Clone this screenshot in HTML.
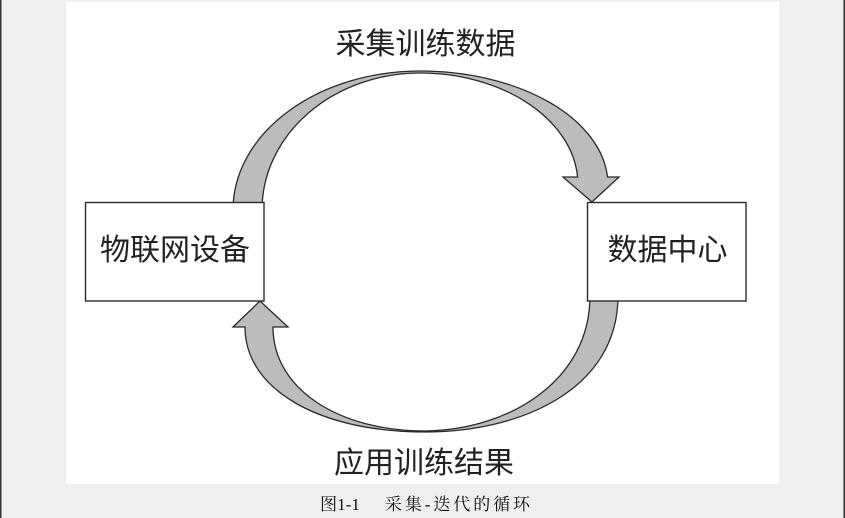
<!DOCTYPE html>
<html>
<head>
<meta charset="utf-8">
<style>
  html, body { margin:0; padding:0; }
  body { width:845px; height:518px; background:#efefef; position:relative; overflow:hidden; }
  svg { position:absolute; left:0; top:0; }
</style>
</head>
<body>
<svg width="845" height="518" viewBox="0 0 845 518" xmlns="http://www.w3.org/2000/svg">
  <rect x="0" y="0" width="845" height="518" fill="#efefef"/>
  <rect x="0" y="0" width="1.5" height="518" fill="#333"/>
  <rect x="843.5" y="0" width="1.5" height="518" fill="#333"/>
  <rect x="66" y="2" width="713" height="482" fill="#ffffff"/>

  <!-- top arrow -->
  <path d="M233,210 A187 139 0 0 1 420,71 A188 114 0 0 1 607.5,177 L619,177 L592,202 L563,177 L577.6,177 A158 112 0 0 0 420,73 A158 137 0 0 0 262,210 Z"
        fill="#bcbcbc" stroke="#2a2a2a" stroke-width="1.3" stroke-linejoin="miter"/>

  <!-- bottom arrow -->
  <path d="M618,296 C618,390 520,432 425,432 C320,432 245,390 245,327 L233,327 L260,301 L288,327 L273,327 C273,390 340,431 425,431 C510,430 590,380 590,296 Z"
        fill="#bcbcbc" stroke="#2a2a2a" stroke-width="1.3" stroke-linejoin="miter"/>

  <!-- boxes -->
  <rect x="85.5" y="202.5" width="178.5" height="98.5" fill="#ffffff" stroke="#2a2a2a" stroke-width="1.4"/>
  <rect x="587.5" y="202.5" width="158.5" height="98.5" fill="#ffffff" stroke="#2a2a2a" stroke-width="1.4"/>

  <g font-family="'Liberation Sans','Noto Sans CJK SC',sans-serif" font-size="30" fill="#222" text-anchor="middle">
    <text x="175" y="260">物联网设备</text>
    <text x="667.5" y="260">数据中心</text>
    <text x="425.5" y="54">采集训练数据</text>
    <text x="424" y="473">应用训练结果</text>
  </g>

  <g font-family="'Liberation Serif','Noto Serif CJK SC',serif" font-size="17" fill="#111">
    <text x="320" y="510" textLength="40" lengthAdjust="spacingAndGlyphs">图1-1</text>
    <text x="385" y="510" textLength="145" lengthAdjust="spacing">采集-迭代的循环</text>
  </g>
</svg>
</body>
</html>
